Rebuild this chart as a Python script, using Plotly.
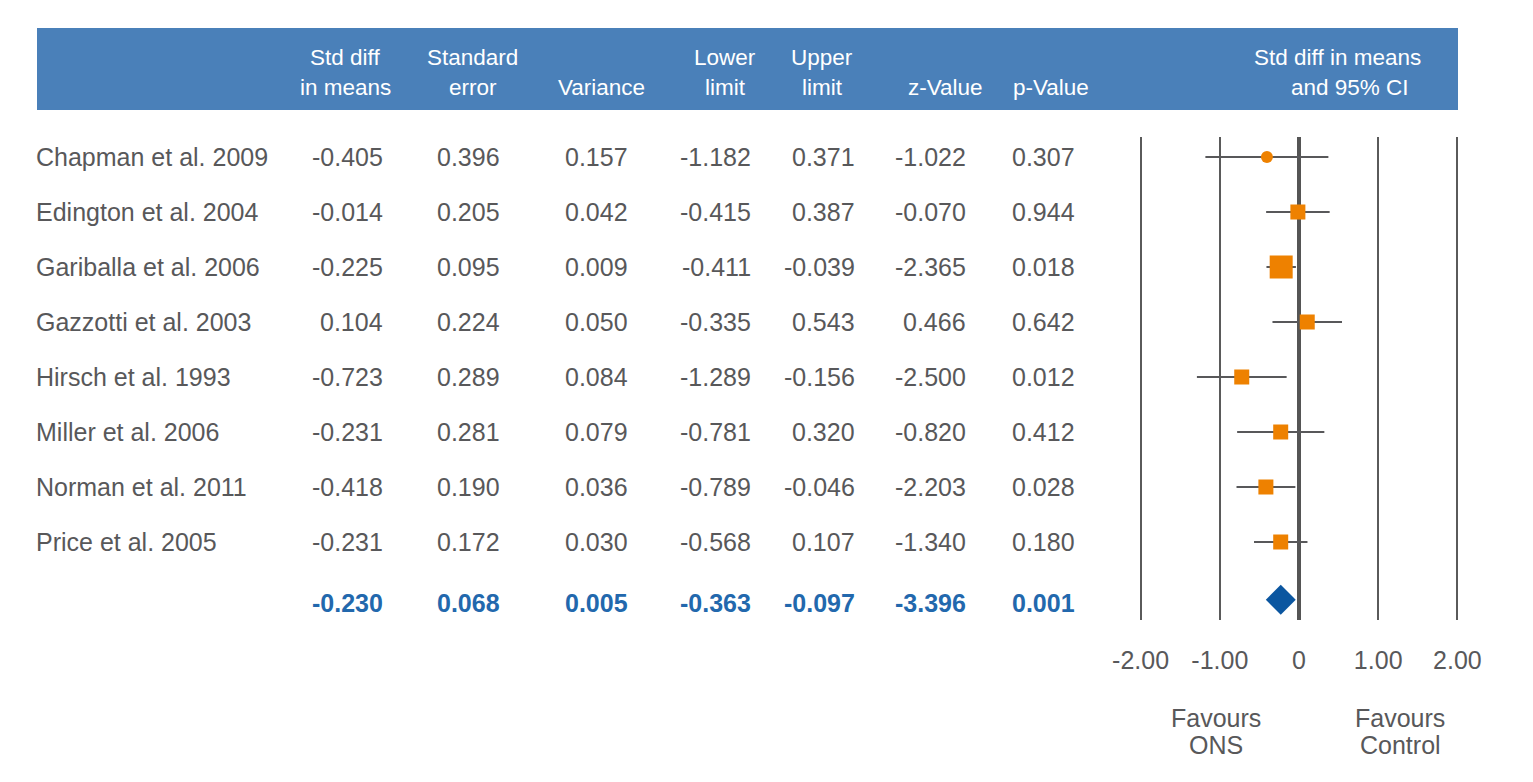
import plotly.graph_objects as go

# Study data (from the meta-analysis table)
studies = [
    "Chapman et al. 2009",
    "Edington et al. 2004",
    "Gariballa et al. 2006",
    "Gazzotti et al. 2003",
    "Hirsch et al. 1993",
    "Miller et al. 2006",
    "Norman et al. 2011",
    "Price et al. 2005",
]
std_diff = [-0.405, -0.014, -0.225, 0.104, -0.723, -0.231, -0.418, -0.231]
std_err = [0.396, 0.205, 0.095, 0.224, 0.289, 0.281, 0.190, 0.172]
variance = [0.157, 0.042, 0.009, 0.050, 0.084, 0.079, 0.036, 0.030]
lower = [-1.182, -0.415, -0.411, -0.335, -1.289, -0.781, -0.789, -0.568]
upper = [0.371, 0.387, -0.039, 0.543, -0.156, 0.320, -0.046, 0.107]
z_value = [-1.022, -0.070, -2.365, 0.466, -2.500, -0.820, -2.203, -1.340]
p_value = [0.307, 0.944, 0.018, 0.642, 0.012, 0.412, 0.028, 0.180]

# pooled estimate
summary = [-0.230, 0.068, 0.005, -0.363, -0.097, -3.396, 0.001]

headers_top = ["Std diff", "Standard", "", "Lower", "Upper", "", ""]
headers_bottom = ["in means", "error", "Variance", "limit", "limit", "z-Value", "p-Value"]
ci_header = ["Std diff in means", "and 95% CI"]

tick_vals = [-2, -1, 0, 1, 2]
tick_text = ["-2.00", "-1.00", "0", "1.00", "2.00"]

# ---- styling ----
PAGE_PAD = 8  # default body margin of the html page
W, H = 1533 - 2 * PAGE_PAD, 782 - 2 * PAGE_PAD
GREY = "#58585a"
BLUE_HDR = "#4a80b9"
BLUE_SUM = "#2268ad"
ORANGE = "#ee8100"
FONT = "Liberation Sans, Arial, sans-serif"

col_right_px = [383, 500, 628, 751, 855, 966, 1075]
hdr_center_px = [345, 473, 601, 725, 822, 945, 1051]
name_left_px = 36
marker_sizes = [12, 15, 23, 15, 15, 15, 15, 15]
marker_symbols = ["circle"] + ["square"] * 7
summary_row = 8.1


def px(xp):
    # screen pixel -> paper x
    return (xp - PAGE_PAD) / W


def py(yp):
    # screen pixel -> paper y
    return 1 - (yp - PAGE_PAD) / H


rows = list(range(len(studies)))

fig = go.Figure()

# CI lines + point estimates
fig.add_trace(
    go.Scatter(
        x=std_diff,
        y=rows,
        mode="markers",
        marker=dict(color=ORANGE, size=marker_sizes, symbol=marker_symbols,
                    opacity=1, line=dict(width=0)),
        error_x=dict(
            type="data",
            symmetric=False,
            array=[u - m for u, m in zip(upper, std_diff)],
            arrayminus=[m - l for l, m in zip(lower, std_diff)],
            color=GREY,
            thickness=2.2,
            width=0,
        ),
        showlegend=False,
        hoverinfo="skip",
    )
)

# pooled diamond
fig.add_trace(
    go.Scatter(
        x=[summary[0]],
        y=[summary_row - 0.05],
        mode="markers",
        marker=dict(color="#0b56a0", size=23, symbol="diamond", line=dict(width=0)),
        showlegend=False,
        hoverinfo="skip",
    )
)

annotations = []

# header band text
for top, bot, cx in zip(headers_top, headers_bottom, hdr_center_px):
    for txt, yy in ((top, 57), (bot, 88)):
        if txt:
            annotations.append(dict(
                x=px(cx), y=py(yy), xref="paper", yref="paper", text=txt,
                showarrow=False, xanchor="center", yanchor="middle",
                font=dict(family=FONT, size=22.5, color="white"),
            ))
for txt, cx, yy in zip(ci_header, [1337, 1350], [57, 88]):
    annotations.append(dict(
        x=px(cx), y=py(yy), xref="paper", yref="paper", text=txt,
        showarrow=False, xanchor="center", yanchor="middle",
        font=dict(family=FONT, size=22.5, color="white"),
    ))

# table body
columns = [std_diff, std_err, variance, lower, upper, z_value, p_value]
for i, name in enumerate(studies):
    annotations.append(dict(
        x=px(name_left_px), y=i, xref="paper", yref="y", text=name,
        showarrow=False, xanchor="left", yanchor="middle",
        font=dict(family=FONT, size=25, color=GREY),
    ))
    for col, xr in zip(columns, col_right_px):
        annotations.append(dict(
            x=px(xr), y=i, xref="paper", yref="y", text=f"{col[i]:.3f}",
            showarrow=False, xanchor="right", yanchor="middle",
            font=dict(family=FONT, size=25, color=GREY),
        ))

# summary row
for val, xr in zip(summary, col_right_px):
    annotations.append(dict(
        x=px(xr), y=summary_row, xref="paper", yref="y", text=f"<b>{val:.3f}</b>",
        showarrow=False, xanchor="right", yanchor="middle",
        font=dict(family=FONT, size=25, color=BLUE_SUM),
    ))

# favours labels
for lines, xd in ((["Favours", "ONS"], -1.05), (["Favours", "Control"], 1.28)):
    for txt, yy in zip(lines, [718, 745]):
        annotations.append(dict(
            x=xd, y=py(yy), xref="x", yref="paper", text=txt,
            showarrow=False, xanchor="center", yanchor="middle",
            font=dict(family=FONT, size=25, color=GREY),
        ))

fig.update_layout(
    width=W,
    height=H,
    margin=dict(l=0, r=0, t=0, b=0, autoexpand=False),
    paper_bgcolor="white",
    plot_bgcolor="white",
    annotations=annotations,
    shapes=[
        dict(
            type="rect", xref="paper", yref="paper",
            x0=px(37), x1=px(1458), y0=py(110), y1=py(28),
            fillcolor=BLUE_HDR, line=dict(width=0), layer="below",
        )
    ],
    xaxis=dict(
        domain=[px(1299 - 2.05 * 79.2), px(1299 + 2.05 * 79.2)],
        range=[-2.05, 2.05],
        tickvals=tick_vals,
        ticktext=tick_text,
        tickfont=dict(family=FONT, size=25, color=GREY),
        showgrid=True,
        gridcolor="#5a5a5a",
        gridwidth=2,
        zeroline=True,
        zerolinecolor="#555555",
        zerolinewidth=4,
        showline=False,
        ticks="",
        ticklabelstandoff=23,
        automargin=False,
        fixedrange=True,
    ),
    yaxis=dict(
        domain=[py(620), py(137)],
        range=[8.418, -0.364],
        showgrid=False,
        zeroline=False,
        showticklabels=False,
        showline=False,
        automargin=False,
        fixedrange=True,
    ),
)
fig.update_annotations(borderpad=0, borderwidth=0)

fig.write_html("out.html")
